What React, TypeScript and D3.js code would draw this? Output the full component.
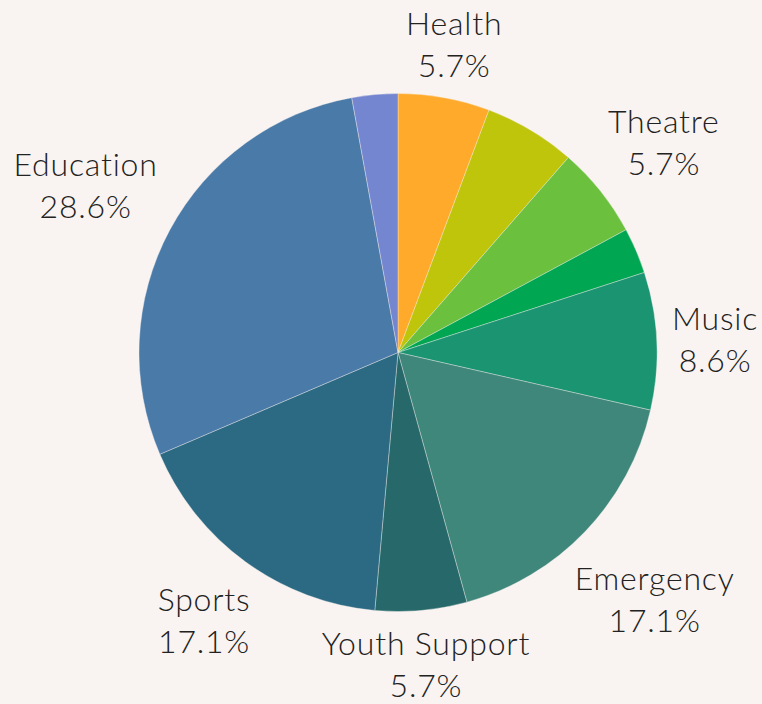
import React from "react";
import * as d3 from "d3";

const categories = ["Health", "Wellbeing", "Theatre", "Environment", "Music", "Emergency", "Youth Support", "Sports", "Education", "Other"];
const counts = [2, 2, 2, 1, 3, 6, 2, 6, 10, 1];
const colors = ["#FFAA2A", "#BFC50A", "#6BC03E", "#00A651", "#1B9472", "#3E877A", "#27696A", "#2C6982", "#4A7AA8", "#7486CF"];
const labelled = ["Health", "Theatre", "Music", "Emergency", "Youth Support", "Sports", "Education"];

const W = 762;
const H = 704;
const CX = 398;
const CY = 352.5;
const R = 259;
const GAP = 15;
const FONT_SIZE = 32;
const SPACING = 0.8;
const FONT = `300 ${FONT_SIZE}px Lato`;
const LINE = 42;

function measure(text: string): number {
  const c = document.createElement("canvas").getContext("2d");
  if (!c) return text.length * FONT_SIZE * 0.5;
  c.font = FONT;
  return c.measureText(text).width + SPACING * text.length;
}

export default function App() {
  const total = d3.sum(counts);
  const data = categories.map((name, i) => ({ name, value: counts[i], color: colors[i] }));
  const pie = d3.pie<any>().value((d) => d.value).sort(null);
  const arcs = pie(data);
  const arc = d3.arc<any>().innerRadius(0).outerRadius(R);
  const fmt = (v: number) => `${((v / total) * 100).toFixed(1)}%`;

  const labels = arcs
    .filter((a) => labelled.includes(a.data.name))
    .map((a) => {
      const mid = (a.startAngle + a.endAngle) / 2;
      const ux = Math.sin(mid);
      const uy = -Math.cos(mid);
      const l1 = a.data.name;
      const l2 = fmt(a.data.value);
      const hw = Math.max(measure(l1), measure(l2)) / 2;
      const hh = 36;
      let lo = 0, hi = 600;
      for (let k = 0; k < 50; k++) {
        const t = (lo + hi) / 2;
        const cx = t * ux, cy = t * uy;
        const dx = Math.max(0, Math.abs(cx) - hw);
        const dy = Math.max(0, Math.abs(cy) - hh);
        if (Math.hypot(dx, dy) < R + GAP) lo = t; else hi = t;
      }
      return { l1, l2, x: lo * ux, y: lo * uy };
    });

  return (
    <svg width={W} height={H} style={{ position: "absolute", left: 0, top: 0, background: "#F9F4F1" }}>
      <rect width={W} height={H} fill="#F9F4F1" />
      <g transform={`translate(${CX},${CY})`}>
        {arcs.map((a, i) => (
          <path key={i} d={arc(a) || ""} fill={a.data.color} stroke="#F9F4F1" strokeWidth={0.6} strokeOpacity={0.6} />
        ))}
        {labels.map((l, i) => (
          <text key={i} textAnchor="middle" fontFamily="Lato" fontWeight={300} fontSize={FONT_SIZE} letterSpacing={SPACING} fill="#222" dominantBaseline="central">
            <tspan x={l.x} y={l.y - LINE / 2}>{l.l1}</tspan>
            <tspan x={l.x} y={l.y + LINE / 2}>{l.l2}</tspan>
          </text>
        ))}
      </g>
    </svg>
  );
}
